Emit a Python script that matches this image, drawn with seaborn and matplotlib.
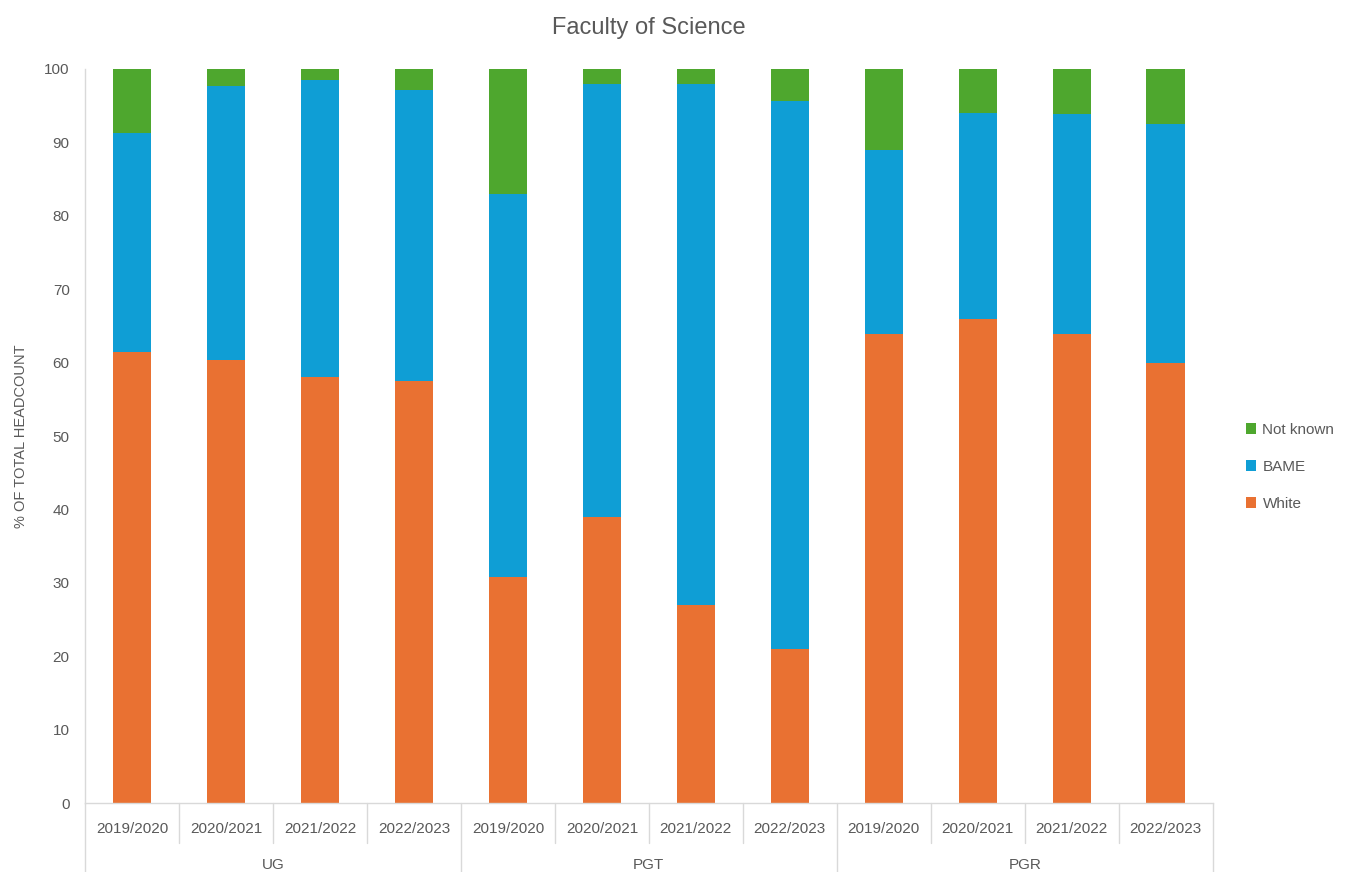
import numpy as np
import pandas as pd
import seaborn as sns
import matplotlib.pyplot as plt

# values (% of total headcount)
groups = ['UG', 'PGT', 'PGR']
years = ['2019/2020', '2020/2021', '2021/2022', '2022/2023']
white = [61.5, 60.3, 58.1, 57.5, 30.8, 38.9, 27.0, 21.0, 63.9, 66.0, 63.9, 60.0]
bame = [29.8, 37.4, 40.4, 39.7, 52.2, 59.1, 71.0, 74.6, 25.0, 28.0, 30.0, 32.5]
not_known = [8.7, 2.3, 1.5, 2.8, 17.0, 2.2, 2.0, 4.4, 11.1, 6.0, 6.1, 7.5]

colors = {'White': '#E97132', 'BAME': '#0F9ED5', 'Not known': '#4EA72E'}
grey = '#595959'
light = '#D9D9D9'

keys = [g + ' ' + y for g in groups for y in years]
df = pd.DataFrame({'slot': keys, 'White': white, 'BAME': bame, 'Not known': not_known})
df['c_white'] = df['White']
df['c_bame'] = df['White'] + df['BAME']
df['c_nk'] = df['c_bame'] + df['Not known']

sns.set_style('white')
plt.rcParams['font.family'] = ['Liberation Sans', 'DejaVu Sans']

fig = plt.figure(figsize=(13.49, 8.72), dpi=100)
ax = fig.add_axes([0.063, 0.0791, 0.836, 0.8418])

# stacked bars: draw cumulative totals, tallest first
for col, name in [('c_nk', 'Not known'), ('c_bame', 'BAME'), ('c_white', 'White')]:
    sns.barplot(data=df, x='slot', y=col, order=keys, color=colors[name],
                width=0.41, saturation=1, label=name, ax=ax, linewidth=0)

ax.set_ylim(0, 100)
ax.set_xlim(-0.5, len(keys) - 0.5)
ax.set_yticks(np.arange(0, 101, 10))
ax.tick_params(axis='y', colors=light, labelcolor=grey, labelsize=11, length=5, width=1, pad=6)
ax.tick_params(axis='x', length=0, labelsize=11, labelcolor=grey, pad=14)
ax.set_xticklabels(years * len(groups))
ax.set_xlabel('')
ax.set_ylabel('% OF TOTAL HEADCOUNT', color=grey, fontsize=10.5, labelpad=12)
for s in ['top', 'right']:
    ax.spines[s].set_visible(False)
for s in ['left', 'bottom']:
    ax.spines[s].set_color(light)
    ax.spines[s].set_linewidth(1)

# category separators and group labels below the axis
trans = ax.get_xaxis_transform()
for i in range(len(keys) + 1):
    x = i - 0.5
    low = -0.095 if i % len(years) == 0 else -0.055
    ax.plot([x, x], [0, low], transform=trans, color=light, lw=1, clip_on=False)
for gi, g in enumerate(groups):
    cx = gi * len(years) + (len(years) - 1) / 2
    ax.text(cx, -0.085, g, transform=trans, ha='center', va='center',
            color=grey, fontsize=11)

ax.set_title('Faculty of Science', color=grey, fontsize=17, pad=25)

handles, labels = ax.get_legend_handles_labels()
leg = ax.legend(handles, labels, loc='center left', bbox_to_anchor=(1.017, 0.458),
                frameon=False, fontsize=11, handlelength=0.7, handleheight=0.7,
                labelspacing=1.5, handletextpad=0.4, labelcolor=grey)

fig.savefig('out.png', dpi=100)
